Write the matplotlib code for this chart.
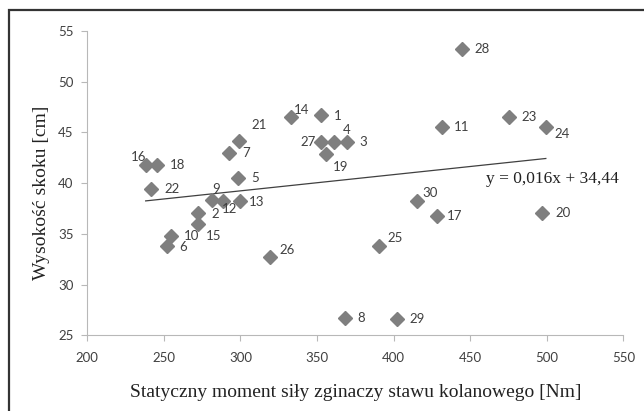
import matplotlib.pyplot as plt
from matplotlib.patches import Rectangle

# data
ids = list(range(1, 31))
moment = [352.5, 272.5, 369.3, 361.0, 298.4, 252.0, 292.3, 368.4, 281.2, 254.4,
          431.5, 288.4, 299.7, 332.8, 272.5, 238.1, 428.5, 245.5, 355.8, 497.2,
          298.8, 241.6, 475.3, 499.4, 390.6, 319.3, 352.5, 444.6, 402.4, 415.0]
jump = [46.7, 37.1, 44.1, 44.1, 40.5, 33.8, 43.0, 26.7, 38.3, 34.8,
        45.5, 38.2, 38.2, 46.5, 36.0, 41.8, 36.8, 41.8, 42.9, 37.1,
        44.2, 39.4, 46.5, 45.5, 33.8, 32.7, 44.1, 53.25, 26.6, 38.2]
slope, intercept = 0.016, 34.44

# label offsets in pixels (dx, dy downwards)
offsets = {1: (17, 1), 2: (17, 1), 3: (17, 0), 4: (13, -12), 5: (17, 0),
           6: (16, 1), 7: (17, 0), 8: (16, 0), 9: (4, -11), 10: (21, 0),
           11: (20, 0), 12: (7, 8), 13: (17, 1), 14: (11, -7), 15: (15, 12),
           16: (-7, -8), 17: (17, 0), 18: (21, 0), 19: (15, 13), 20: (21, 0),
           21: (20, -16), 22: (21, 0), 23: (20, 0), 24: (16, 7), 25: (16, -8),
           26: (17, -7), 27: (-13, 0), 28: (20, 0), 29: (20, 0), 30: (13, -8)}

fig = plt.figure(figsize=(6.44, 4.11), dpi=100)
ax = fig.add_axes([0.1356, 0.1842, 0.8323, 0.7404])

ax.plot(moment, jump, 'D', color='#7f7f7f', markersize=7, zorder=3)

xs = [min(moment), max(moment)]
ax.plot(xs, [slope * x + intercept for x in xs], color='#404040', linewidth=0.9)

for i, x, y in zip(ids, moment, jump):
    dx, dy = offsets[i]
    ax.annotate(str(i), (x, y), xytext=(dx, -dy), textcoords='offset pixels',
                ha='center', va='center', fontsize=9.5, color='#404040',
                family='Lato')

ax.text(504, 40.4, 'y = 0,016x + 34,44', ha='center', va='center',
        fontsize=12.5, family='Liberation Serif', color='#222222')

ax.set_xlim(200, 550)
ax.set_ylim(25, 55)
ax.set_xticks(range(200, 551, 50))
ax.set_yticks(range(25, 56, 5))
for s in ['top', 'right']:
    ax.spines[s].set_visible(False)
for s in ['left', 'bottom']:
    ax.spines[s].set_color('#b8b8b8')
    ax.spines[s].set_linewidth(0.8)
ax.tick_params(direction='out', length=4, color='#b8b8b8', labelcolor='#404040',
               labelsize=9.5, pad=6)
ax.tick_params(axis='x', pad=8)
for lab in ax.get_xticklabels() + ax.get_yticklabels():
    lab.set_family('Lato')

ax.set_xlabel('Statyczny moment siły zginaczy stawu kolanowego [Nm]',
              family='Liberation Serif', fontsize=14, color='#222222', va='center')
ax.set_ylabel('Wysokość skoku [cm]', family='Liberation Serif', fontsize=14,
              color='#222222', va='center')
ax.xaxis.set_label_coords(0.5004, -0.187)
ax.yaxis.set_label_coords(-0.0864, 0.469)

# outer frame, cut off at right and bottom edges
fig.patches.append(Rectangle((9 / 644, -0.1), 1.2, 1 - 10 / 411 + 0.1,
                             transform=fig.transFigure, fill=False,
                             edgecolor='#333333', linewidth=1.6))

fig.savefig('out.png', dpi=100)
